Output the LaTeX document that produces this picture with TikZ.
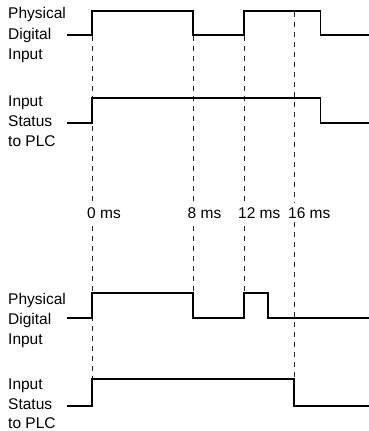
\documentclass[tikz,border=0pt]{standalone}
\usepackage{fontspec}
\setmainfont{Liberation Sans}
\begin{document}
\begin{tikzpicture}[x=1pt,y=-1pt,
  wave/.style={line width=1.6pt, line join=miter},
  guide/.style={line width=0.9pt, dash pattern=on 4.5pt off 5.5pt, black!85},
  lbl/.style={anchor=base west, inner sep=0pt, font=\fontsize{15.5}{20}\selectfont},
  tlbl/.style={anchor=base west, inner xsep=0.5pt, inner ysep=4pt, fill=white, font=\fontsize{15.5}{20}\selectfont}]
\useasboundingbox (0,0) rectangle (369,431);
% time marks
\coordinate (m0) at (92,0);
\coordinate (m8) at (193,0);
\coordinate (m12) at (244,0);
\coordinate (m16) at (294,0);
% guide lines
\draw[guide] (92,36) -- (92,379);
\draw[guide] (193,36) -- (193,293);
\draw[guide] (244,36) -- (244,293);
\draw[guide] (294,12) -- (294,379);
% time labels
\node[tlbl] (l0) at (86.5,218) {0 ms};
\node[tlbl] (l8) at (187,218) {8 ms};
\node[tlbl] (l12) at (237.5,218) {12 ms};
\node[tlbl] (l16) at (287.5,218) {16 ms};
% top waveforms
\draw[wave] (67,35) -- (92,35) -- (92,11) -- (193,11) -- (193,35) -- (244,35) -- (244,11) -- (320.5,11) -- (320.5,35) -- (369,35);
\draw[wave] (67,123) -- (92,123) -- (92,98) -- (320.5,98) -- (320.5,123) -- (369,123);
% bottom waveforms
\draw[wave] (67,318) -- (92,318) -- (92,293) -- (193,293) -- (193,318) -- (244,318) -- (244,293) -- (268,293) -- (268,318) -- (369,318);
\draw[wave] (67,406) -- (92,406) -- (92,379) -- (294,379) -- (294,406) -- (369,406);
% side labels, top
\node[lbl] (a1) at (8,19) {Physical};
\node[lbl] (a2) at (8,39) {Digital};
\node[lbl] (a3) at (8,59) {Input};
\node[lbl] (b1) at (8,106.5) {Input};
\node[lbl] (b2) at (8,126.5) {Status};
\node[lbl] (b3) at (8,146.5) {to PLC};
% side labels, bottom
\node[lbl] (c1) at (8,304) {Physical};
\node[lbl] (c2) at (8,324) {Digital};
\node[lbl] (c3) at (8,344) {Input};
\node[lbl] (d1) at (8,389.5) {Input};
\node[lbl] (d2) at (8,409) {Status};
\node[lbl] (d3) at (8,428.5) {to PLC};
\end{tikzpicture}
\end{document}
